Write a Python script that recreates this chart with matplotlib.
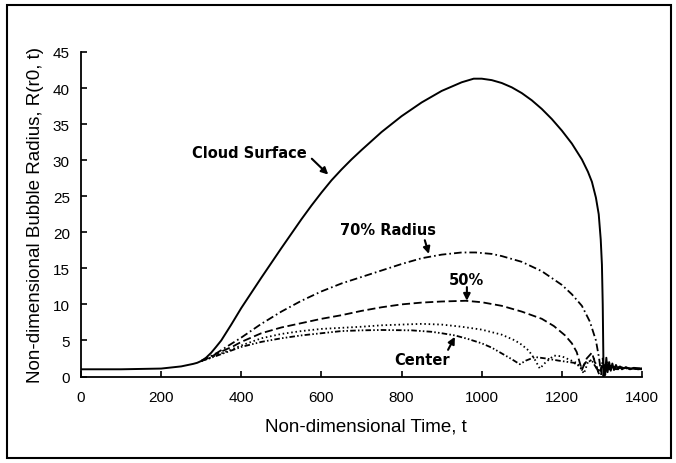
import matplotlib
matplotlib.use("Agg")
import matplotlib.pyplot as plt
from matplotlib.patches import Rectangle

plt.rcParams["lines.scale_dashes"] = False

# Cloud surface
t_surface = [0, 100, 200, 250, 280, 290, 300, 312, 325, 337, 350, 375, 400, 425, 450, 500, 550,
             575, 600, 625, 650, 675, 700, 750, 800, 850, 900, 950, 980, 1000, 1025, 1050, 1075,
             1100, 1125, 1150, 1175, 1200, 1225, 1250, 1265, 1275, 1285, 1292, 1297, 1300, 1302,
             1303.5, 1304, 1306, 1308, 1311, 1314, 1318, 1322, 1326, 1330, 1335, 1340, 1345,
             1350, 1360, 1370, 1380, 1390, 1400]
r_surface = [1.0, 1.0, 1.1, 1.4, 1.75, 1.9, 2.15, 2.6, 3.3, 4.1, 5.0, 7.2, 9.5, 11.6, 13.7, 17.8, 21.8,
             23.7, 25.5, 27.2, 28.7, 30.1, 31.4, 33.9, 36.1, 38.0, 39.6, 40.8, 41.3, 41.3, 41.1, 40.7, 40.1,
             39.3, 38.3, 37.1, 35.7, 34.1, 32.3, 30.1, 28.4, 27.0, 24.8, 22.5, 19.0, 15.5, 10.0,
             3.0, 0.0, 1.5, 0.2, 2.6, 0.6, 2.0, 0.8, 1.8, 0.9, 1.6, 1.0, 1.4,
             1.0, 1.3, 1.0, 1.2, 1.0, 1.1]

# 70% radius
t_70 = [300, 320, 340, 360, 380, 400, 450, 500, 550, 600, 650, 700, 750, 800, 850, 900, 950, 985,
        1025, 1050, 1100, 1150, 1200, 1225, 1250, 1270, 1285, 1293, 1298, 1302, 1306, 1312, 1318,
        1325, 1335, 1345, 1360, 1380, 1400]
r_70 = [2.15, 2.7, 3.3, 4.0, 4.7, 5.4, 7.3, 9.0, 10.5, 11.8, 12.9, 13.8, 14.7, 15.6, 16.4, 16.9, 17.2, 17.2,
        17.0, 16.7, 15.9, 14.6, 12.7, 11.4, 9.8, 7.6, 5.0, 2.5, 0.3, 2.5, 0.5, 2.0, 1.0,
        1.6, 1.1, 1.3, 1.1, 1.2, 1.1]

# 50% radius
t_50 = [300, 320, 340, 360, 380, 400, 450, 500, 550, 600, 650, 700, 750, 800, 850, 900, 960, 1000,
        1050, 1100, 1150, 1180, 1208, 1225, 1237, 1250, 1262, 1275, 1285, 1293, 1300, 1310, 1320,
        1335, 1350, 1370, 1400]
r_50 = [2.15, 2.6, 3.2, 3.7, 4.2, 4.8, 6.0, 6.8, 7.4, 8.0, 8.5, 9.1, 9.6, 10.0, 10.25, 10.4, 10.5, 10.3,
        9.8, 9.0, 8.0, 7.0, 5.7, 4.6, 3.4, 0.9, 2.5, 3.3, 1.5, 0.3, 1.5, 0.8, 1.5,
        1.0, 1.3, 1.1, 1.1]

# Intermediate radius (dotted)
t_mid = [300, 320, 340, 360, 380, 400, 450, 500, 550, 600, 700, 750, 850, 900, 950, 1000, 1050,
         1083, 1100, 1117, 1130, 1145, 1160, 1180, 1200, 1220, 1240, 1255, 1265, 1280, 1292,
         1305, 1320, 1340, 1370, 1400]
r_mid = [2.15, 2.55, 3.0, 3.4, 3.85, 4.3, 5.3, 5.9, 6.3, 6.6, 6.9, 7.1, 7.3, 7.2, 6.9, 6.5, 5.8,
         5.0, 4.4, 3.6, 2.6, 1.1, 2.0, 2.9, 2.8, 2.3, 1.8, 0.4, 2.0, 2.5, 0.5,
         1.5, 1.0, 1.2, 1.1, 1.0]

# Cloud center
t_center = [300, 320, 340, 360, 380, 400, 450, 500, 550, 600, 650, 700, 750, 825, 875, 900, 933,
            966, 1000, 1025, 1050, 1075, 1095, 1110, 1133, 1160, 1192, 1230, 1250, 1260, 1275,
            1290, 1305, 1320, 1340, 1370, 1400]
r_center = [2.15, 2.5, 2.9, 3.3, 3.7, 4.1, 4.8, 5.3, 5.7, 6.0, 6.3, 6.4, 6.45, 6.4, 6.2, 6.0, 5.7,
            5.2, 4.6, 4.0, 3.2, 2.4, 1.7, 2.2, 2.7, 2.5, 2.2, 1.9, 1.2, 2.0, 2.2,
            0.8, 1.6, 1.1, 1.3, 1.1, 1.0]

x_ticks = [0, 200, 400, 600, 800, 1000, 1200, 1400]
y_ticks = [0, 5, 10, 15, 20, 25, 30, 35, 40, 45]

fig = plt.figure(figsize=(6.76, 4.64), dpi=100)
ax = fig.add_axes([81 / 676, 86.5 / 464, 561 / 676, 324.5 / 464])

ax.plot(t_surface, r_surface, color="black", lw=1.4, ls="-")
ax.plot(t_70, r_70, color="black", lw=1.3, ls=(0, (5.5, 2.2, 1.2, 2.2)))
ax.plot(t_50, r_50, color="black", lw=1.3, ls=(0, (5.8, 2.6)))
ax.plot(t_mid, r_mid, color="black", lw=1.3, ls=(0, (1.1, 2.0)))
ax.plot(t_center, r_center, color="black", lw=1.3, ls=(0, (4.0, 1.6, 1.1, 1.6, 1.1, 1.6)))

ax.set_xlim(0, 1400)
ax.set_ylim(0, 45)
ax.set_xticks(x_ticks)
ax.set_yticks(y_ticks)
for s in ("top", "right"):
    ax.spines[s].set_visible(False)
for s in ("left", "bottom"):
    ax.spines[s].set_linewidth(1.3)

tick_font = dict(family="Liberation Sans", size=11)
ax.set_xticklabels([str(v) for v in x_ticks], **tick_font)
ax.set_yticklabels([str(v) for v in y_ticks], **tick_font)
ax.tick_params(axis="x", direction="in", length=4, width=1.2, pad=10)
ax.tick_params(axis="y", direction="in", length=4, width=1.2, pad=8)

label_font = dict(family="Liberation Sans", size=13.5)
ax.set_xlabel("Non-dimensional Time, t", **label_font)
ax.set_ylabel("Non-dimensional Bubble Radius, R(r0, t)", **label_font)
ax.xaxis.set_label_coords(0.508, -0.125)
ax.yaxis.set_label_coords(-0.066, 0.5)

note_font = dict(family="DejaVu Sans", weight="bold", size=10.5, ha="center", va="center")
arrow = dict(arrowstyle="-|>", color="black", lw=1.5, mutation_scale=10, shrinkA=0, shrinkB=0)

ax.text(419, 31.1, "Cloud Surface", **note_font)
ax.annotate("", xy=(617, 28.0), xytext=(576, 30.2), arrowprops=arrow)

ax.text(765, 20.4, "70% Radius", **note_font)
ax.annotate("", xy=(868, 17.0), xytext=(858, 18.9), arrowprops=arrow)

ax.text(962, 13.5, "50%", **note_font)
ax.annotate("", xy=(963, 10.5), xytext=(963, 12.4), arrowprops=arrow)

ax.text(850, 2.4, "Center", **note_font)
ax.annotate("", xy=(933, 5.5), xytext=(916, 3.7), arrowprops=arrow)

# outer frame around the whole figure
fig.patches.append(Rectangle((7 / 676, 5 / 464), 664 / 676, 453 / 464,
                             transform=fig.transFigure, fill=False,
                             edgecolor="black", lw=1.5))

fig.savefig("out.png", dpi=100)
